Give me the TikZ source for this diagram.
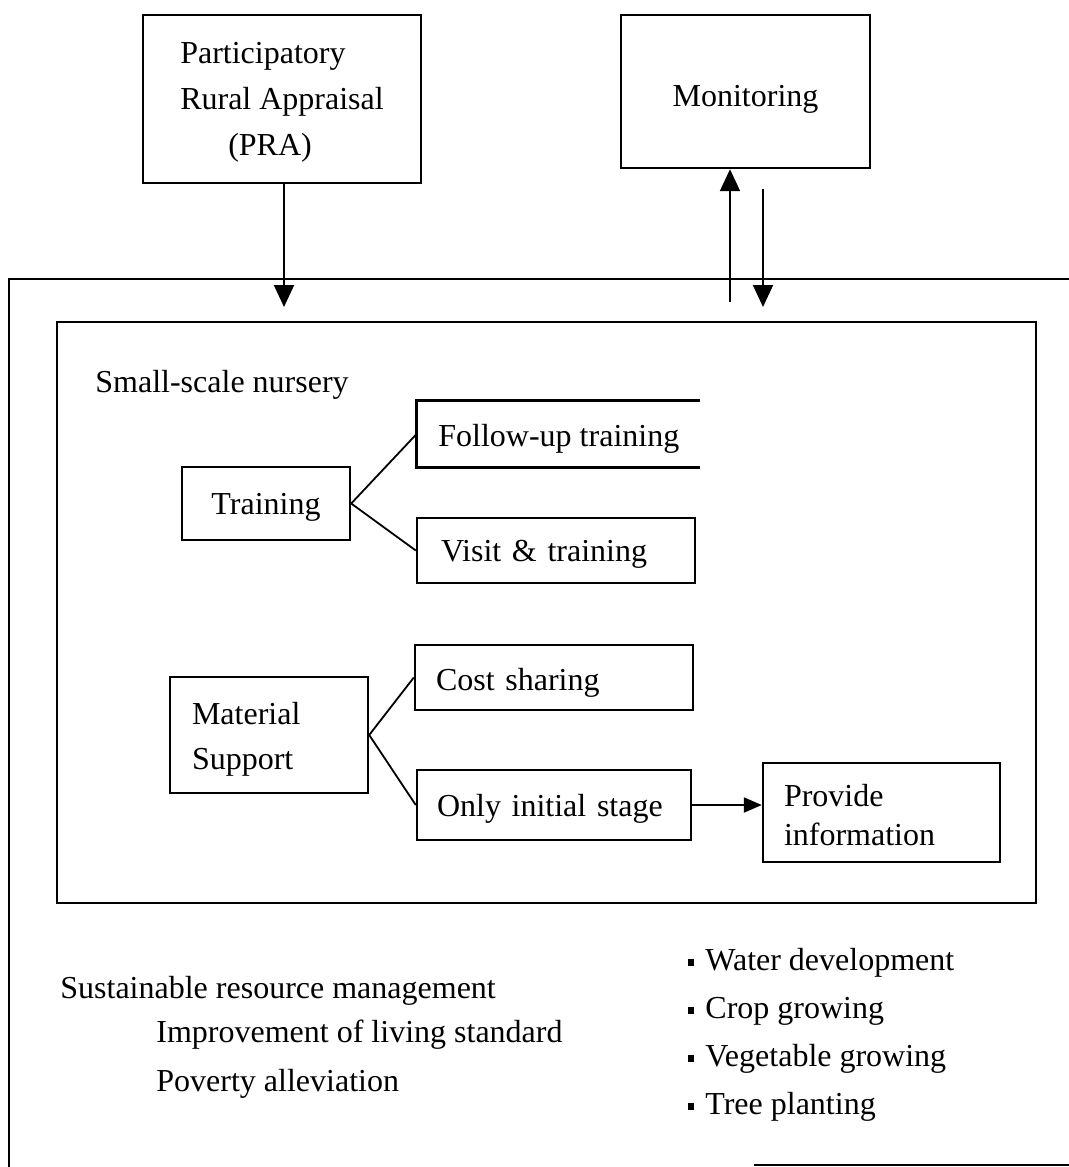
\documentclass[tikz,border=0pt]{standalone}
\usepackage{fontspec}
\setmainfont{Liberation Serif}
\usetikzlibrary{arrows.meta,calc}

\newcommand{\sqbullet}{\rule[2.4pt]{3pt}{3.4pt}\hspace{5.5pt}}

\begin{document}
\begin{tikzpicture}[
  x=0.5pt, y=-0.5pt,
  every node/.style={font=\fontsize{16}{23}\selectfont, inner sep=0pt, text depth=0pt},
  box/.style={draw, line width=1.2pt, inner ysep=0pt},
  lbox/.style={box, align=left},
  frame/.style={line width=1.2pt},
  link/.style={line width=0.9pt},
  bigarrow/.style={line width=1pt, -{Triangle[width=10pt,length=11pt]}},
  smallarrow/.style={line width=1pt, -{Triangle[width=7.5pt,length=9pt]}},
  plain/.style={anchor=west, align=left}
]
\clip (0,0) rectangle (1069,1167);
\fill[white] (0,0) rectangle (1069,1167);

% top boxes
\node[box, minimum width=139pt, minimum height=84pt, align=left] (pra) at (282,99)
  {Participatory\\Rural Appraisal\\\hspace*{24pt}(PRA)};
\node[box, minimum width=124.5pt, minimum height=76.5pt, text height=14.5pt] (mon) at (745.5,91.5) {Monitoring};

% outer frame (runs past the right edge)
\coordinate (ftl) at (9,279);
\draw[frame] (1075,279) -- (ftl) -- (9,1170);
\draw[frame] (754,1165) -- (1075,1165);

% inner frame
\node[draw, line width=1.2pt, minimum width=489.5pt, minimum height=290.5pt] (inner) at (546.5,612.5) {};

% arrows between top boxes and the frame
\coordinate (praend) at (284,307);
\draw[bigarrow] (pra.south -| praend) -- (praend);
\coordinate (upstart) at (730,302);
\draw[bigarrow] (upstart) -- (upstart |- mon.south);
\coordinate (downstart) at (763,189);
\coordinate (downend) at (763,307);
\draw[bigarrow] (downstart) -- (downend);

% nursery content
\node[plain] (nursery) at (95,381) {Small-scale nursery};

\node[box, minimum width=84pt, minimum height=36.5pt] (train) at (266,503.5) {Training};
\node[minimum width=141.5pt, minimum height=33pt] (fu) at (558.5,434) {};
\node[anchor=west] (futext) at (438,435) {Follow-up training};
\draw[line width=1.2pt] (fu.north east) -- (fu.north west) -- (fu.south west) -- (fu.south east);
\node[lbox, text width=115pt, inner xsep=12pt, minimum height=32.5pt] (vt) at (556,550.5) {Visit \& training};

% two-line boxes: text height/depth fix where the first baseline sits
\node[lbox, text width=77pt, inner xsep=11pt, minimum height=58pt, text height=1pt, text depth=12pt, font=\fontsize{16}{22.5}\selectfont] (mat) at (269,735) {Material\\Support};
\node[lbox, text width=118pt, inner xsep=10.5pt, minimum height=32.5pt, text height=13pt] (cost) at (554,677.5) {Cost sharing};
\node[lbox, text width=117pt, inner xsep=10pt, minimum height=35pt] (only) at (554,805) {Only initial stage};
\node[lbox, text width=97.5pt, inner xsep=10.5pt, minimum height=49.5pt, text height=1pt, text depth=7.5pt, font=\fontsize{16}{19.5}\selectfont] (prov) at (881.5,812.5) {Provide\\information};

\draw[link] (fu.west) -- (train.east) -- (vt.west);
\draw[link] (cost.west) -- (mat.east) -- (only.west);
\draw[smallarrow] (only.east) -- (only.east -| prov.west);

% outcomes
\node[plain] (srm) at (60,987) {Sustainable resource management};
\node[plain] (ils) at (156,1031) {Improvement of living standard};
\node[plain] (pov) at (156,1080) {Poverty alleviation};

\node[plain, font=\fontsize{16}{24}\selectfont] (acts) at (688,1031.5)
  {\sqbullet Water development\\
   \sqbullet Crop growing\\
   \sqbullet Vegetable growing\\
   \sqbullet Tree planting};
\end{tikzpicture}
\end{document}
